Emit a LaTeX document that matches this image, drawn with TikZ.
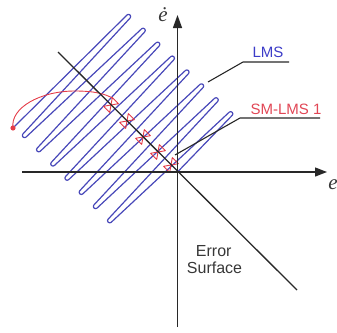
\documentclass[tikz,border=0pt]{standalone}
\usepackage{fontspec}
\setmainfont{Liberation Sans}
\newfontfamily\axisfont{Liberation Serif}
\usetikzlibrary{arrows.meta}
\definecolor{lmsblue}{RGB}{72,72,185}
\definecolor{lmstext}{RGB}{60,60,200}
\definecolor{smred}{RGB}{228,60,72}
\definecolor{smtext}{RGB}{225,70,85}
\definecolor{axisgray}{RGB}{40,40,40}
\definecolor{labelgray}{RGB}{55,55,55}
\tikzset{
  blueline/.style={draw=lmsblue, line width=1.2pt, rounded corners=2pt, line join=round},
  redline/.style={draw=smred, line width=0.9pt, line join=round},
  axisline/.style={draw=axisgray, line width=1.3pt},
  leaderline/.style={draw=axisgray, line width=1.1pt},
  labeltext/.style={font=\fontsize{15}{18}\selectfont, inner sep=0pt, anchor=base},
  axislabel/.style={inner sep=0pt, anchor=base, text=labelgray, font=\axisfont\itshape\fontsize{21}{24}\selectfont},
}
\begin{document}
\begin{tikzpicture}[x=1pt, y=-1pt]
\useasboundingbox (0,0) rectangle (337,332);
% named points
\coordinate (O) at (177.5,172);
\coordinate (ytop) at (177.5,15);
\coordinate (ybot) at (177.5,327);
\coordinate (xleft) at (22,172);
\coordinate (xright) at (327,172);
\coordinate (d1) at (58,52);
\coordinate (d2) at (297,290);
\coordinate (lms0) at (208,82);
\coordinate (lms1) at (243,62);
\coordinate (lms2) at (289,62);
\coordinate (sm0) at (175,155);
\coordinate (sm1) at (240,118);
\coordinate (sm2) at (320,118);
\coordinate (start) at (14,127);
% LMS trajectory
\draw[blueline] (start)
  -- (128.5,13.5) -- (131.5,16.5)
  -- (21.5,135.5) -- (24.5,138.5)
  -- (143.1,27.4) -- (146.1,30.4)
  -- (35.7,149.7) -- (38.7,152.7)
  -- (157.7,41.3) -- (160.7,44.3)
  -- (49.9,163.9) -- (52.9,166.9)
  -- (172.3,55.2) -- (175.3,58.2)
  -- (64.1,178.1) -- (67.1,181.1)
  -- (186.9,69.1) -- (189.9,72.1)
  -- (78.3,192.3) -- (81.3,195.3)
  -- (201.5,83) -- (204.5,86)
  -- (92.5,206.5) -- (95.5,209.5)
  -- (216.1,96.9) -- (219.1,99.9)
  -- (106.7,220.7) -- (109.7,223.7)
  -- (230.7,110.8) -- (233.7,113.8)
  -- (O);
% SM-LMS trajectory
\fill[smred] (13,128) circle (2.6);
\draw[redline] (13,128) .. controls (10,108) and (40,91) .. (75,91)
  .. controls (95,91) and (105,94) .. (112.3,98);
\foreach \c in {(111,105),(127,121),(143,137),(158,152),(171,165)}{
  \draw[redline, shift={\c}] (0,0) -- (7.4,-1.3) -- (1.3,-7.4) -- (-1.3,7.4) -- (-7.4,1.3) -- cycle;
}
% error surface and axes
\draw[axisline] (d1) -- (d2);
\draw[axisline, -{Triangle[length=12pt,width=9pt]}] (xleft) -- (xright);
\draw[axisline, -{Triangle[length=13pt,width=9pt]}] (ybot) -- (ytop);
% leaders
\draw[leaderline] (lms0) -- (lms1) -- (lms2);
\draw[leaderline] (sm0) -- (sm1) -- (sm2);
% labels
\node[labeltext, text=lmstext] (lmslabel) at (268,57.3) {LMS};
\node[labeltext, text=smtext] (smlabel) at (286,114) {SM-LMS 1};
\node[labeltext, text=labelgray, font=\fontsize{16}{19}\selectfont] (err1) at (213.7,256.7) {Error};
\node[labeltext, text=labelgray, font=\fontsize{16}{19}\selectfont] (err2) at (214.5,273.3) {Surface};
\node[axislabel] (edot) at (163,21.5) {ė};
\node[axislabel] (elab) at (333,189.5) {e};
\end{tikzpicture}
\end{document}
